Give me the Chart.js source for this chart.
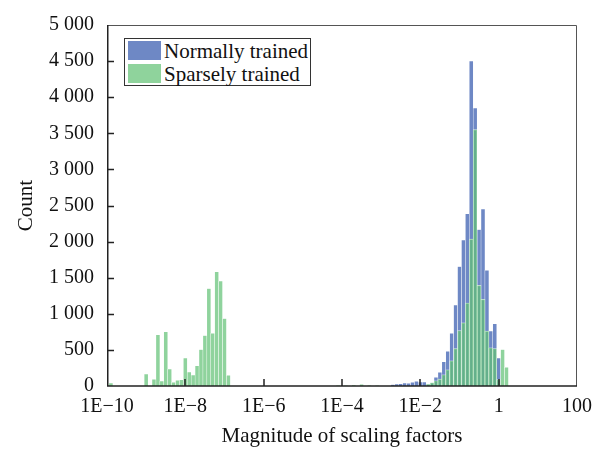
<!DOCTYPE html>
<html lang="en">
<head>
    <meta charset="UTF-8">
    <title>Scaling factors histogram</title>
    <script src="https://cdn.jsdelivr.net/npm/chart.js@4.4.1/dist/chart.umd.min.js"></script>
    <style>
        html, body { margin: 0; padding: 0; background: #fff; }
        #wrap { position: relative; width: 606px; height: 453px; }
        #legend {
            position: absolute; left: 124px; top: 38px; width: 185px; height: 46px;
            border: 1px solid #333; background: #fff;
            font-family: "Liberation Serif", "Times New Roman", serif; font-size: 21px; color: #111;
        }
        #legend div { height: 21px; line-height: 20px; margin-top: 2px; white-space: nowrap; }
        #legend span.sw { display: inline-block; width: 33px; height: 19px; vertical-align: top; margin: 0 3px 0 3px; }
    </style>
</head>
<body>
<div id="wrap">
    <canvas id="myChart" width="606" height="453"></canvas>
    <div id="legend">
        <div><span class="sw" style="background:#6e88c5"></span>Normally trained</div>
        <div><span class="sw" style="background:#8fd39c"></span>Sparsely trained</div>
    </div>
</div>

<script>
    // bin centres are log10 of the scaling factor, one bin = 0.1 decade
    var normalExp   = [-2.7, -2.6, -2.5, -2.4, -2.3, -2.2, -2.1, -2.0, -1.9, -1.8, -1.7, -1.6, -1.5, -1.4, -1.3, -1.2,
                       -1.1, -1.0, -0.9, -0.8, -0.7, -0.6, -0.5, -0.4, -0.3, -0.2, -0.1, 0.0];
    var normalCount = [18, 25, 30, 41, 37, 50, 64, 55, 55, 25, 40, 119, 188, 334, 481, 728,
                       1120, 1655, 2020, 2383, 4500, 3850, 2166, 2450, 1603, 760, 860, 385];

    var sparseExp   = [-9.9, -9.0, -8.8, -8.7, -8.6, -8.5, -8.4, -8.3, -8.2, -8.1, -8.0, -7.9, -7.8, -7.7, -7.6, -7.5,
                       -7.4, -7.3, -7.2, -7.1, -7.0, -6.9,
                       -4.1, -3.9, -3.7, -3.5, -3.3, -3.1,
                       -1.8, -1.7, -1.6, -1.5, -1.4, -1.3, -1.2, -1.1, -1.0, -0.9, -0.8, -0.7, -0.6, -0.5,
                       -0.4, -0.3, -0.2, -0.1, 0.0, 0.1, 0.2];
    var sparseCount = [40, 165, 92, 710, 69, 751, 234, 50, 78, 87, 385, 192, 151, 279, 504, 700,
                       1351, 728, 1580, 1452, 934, 147,
                       8, 5, 10, 22, 8, 5,
                       27, 46, 73, 96, 156, 224, 348, 518, 769, 875, 1150, 2035, 3550, 1393,
                       1200, 760, 530, 520, 90, 504, 257];

    var xTicks      = [-10, -8, -6, -4, -2, 0, 2];
    var xTickLabels = ['1E\u221210', '1E\u22128', '1E\u22126', '1E\u22124', '1E\u22122', '1', '100'];

    var serif = '"Liberation Serif", "Times New Roman", serif';

    function points(exps, counts) {
        var out = [];
        for (var i = 0; i < exps.length; i++) {
            out.push({ x: exps[i], y: counts[i] });
        }
        return out;
    }

    function spaced(v) {
        if (v < 1000) return String(v);
        return Math.floor(v / 1000) + ' ' + String(v % 1000).padStart(3, '0');
    }

    // box round the plot, ticks pointing inwards
    var framePlugin = {
        id: 'frame',
        afterDatasetsDraw: function (chart) {
            var ctx = chart.ctx, a = chart.chartArea;
            var x = chart.scales.x, y = chart.scales.y;
            ctx.save();
            ctx.strokeStyle = '#555';
            ctx.lineWidth = 1;
            ctx.beginPath();
            ctx.moveTo(a.left, a.top + 0.5);
            ctx.lineTo(a.right - 0.5, a.top + 0.5);
            ctx.lineTo(a.right - 0.5, a.bottom);
            ctx.stroke();

            ctx.strokeStyle = '#222';
            ctx.lineWidth = 1.5;
            ctx.beginPath();
            ctx.moveTo(a.left + 0.75, a.top);
            ctx.lineTo(a.left + 0.75, a.bottom);
            ctx.lineTo(a.right, a.bottom);
            ctx.stroke();

            ctx.lineWidth = 1.5;
            ctx.beginPath();
            xTicks.forEach(function (v) {
                var px = Math.round(x.getPixelForValue(v));
                if (v === xTicks[0] || v === xTicks[xTicks.length - 1]) return;
                ctx.moveTo(px, a.bottom);
                ctx.lineTo(px, a.bottom - 7);
            });
            y.ticks.forEach(function (t) {
                var py = Math.round(y.getPixelForValue(t.value)) + 0.5;
                if (t.value === 0 || t.value === 5000) return;
                ctx.moveTo(a.left, py);
                ctx.lineTo(a.left + 7, py);
            });
            ctx.stroke();
            ctx.restore();
        }
    };

    var ctx = document.getElementById('myChart').getContext('2d');
    var myChart = new Chart(ctx, {
        type: 'bar',
        data: {
            datasets: [
                {
                    label: 'Normally trained',
                    data: points(normalExp, normalCount),
                    backgroundColor: '#6e88c5',
                    borderColor: 'rgba(255,255,255,0.85)',
                    borderWidth: { left: 0.5, right: 0.5, top: 0.5, bottom: 0 },
                    order: 2
                },
                {
                    label: 'Sparsely trained',
                    data: points(sparseExp, sparseCount),
                    backgroundColor: 'rgba(95,193,115,0.7)',
                    borderColor: 'rgba(255,255,255,0.85)',
                    borderWidth: { left: 0.5, right: 0.5, top: 0.5, bottom: 0 },
                    order: 1
                }
            ]
        },
        options: {
            responsive: false,
            animation: false,
            grouped: false,
            barPercentage: 1,
            categoryPercentage: 1,
            layout: { padding: { left: 0, right: 29, top: 22, bottom: 0 } },
            plugins: {
                legend: { display: false },
                tooltip: { enabled: false }
            },
            scales: {
                x: {
                    type: 'linear',
                    min: -10,
                    max: 2,
                    offset: false,
                    afterBuildTicks: function (scale) {
                        scale.ticks = xTicks.map(function (v) { return { value: v }; });
                    },
                    afterFit: function (scale) { scale.height = 67; },
                    grid: { display: false, drawTicks: false, offset: false },
                    border: { display: false },
                    ticks: {
                        padding: 9,
                        color: '#111',
                        font: { family: serif, size: 20 },
                        maxRotation: 0,
                        callback: function (v) {
                            var i = xTicks.indexOf(v);
                            return i >= 0 ? xTickLabels[i] : '';
                        }
                    },
                    title: {
                        display: true,
                        text: 'Magnitude of scaling factors',
                        color: '#111',
                        font: { family: serif, size: 21 },
                        padding: { top: 0, bottom: 4 }
                    }
                },
                y: {
                    min: 0,
                    max: 5000,
                    afterFit: function (scale) { scale.width = 107; },
                    grid: { display: false, drawTicks: false },
                    border: { display: false },
                    ticks: {
                        stepSize: 500,
                        padding: 13,
                        color: '#111',
                        font: { family: serif, size: 20 },
                        callback: function (v) { return spaced(v); }
                    },
                    title: {
                        display: true,
                        text: 'Count',
                        color: '#111',
                        font: { family: serif, size: 21 },
                        padding: { top: 14, bottom: 0 }
                    }
                }
            }
        },
        plugins: [framePlugin]
    });
</script>
</body>
</html>
